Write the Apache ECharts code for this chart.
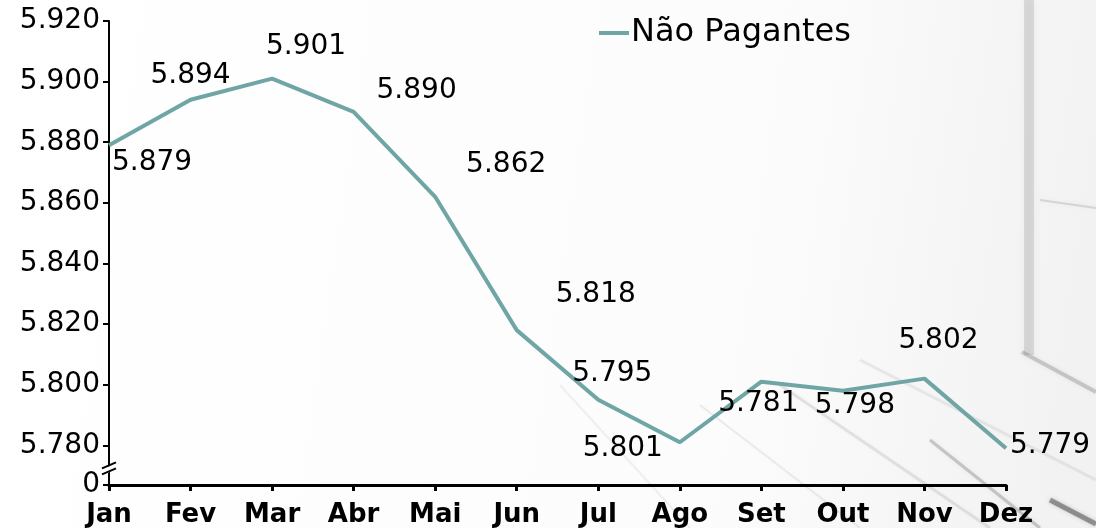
<!DOCTYPE html>
<html>
<head>
<meta charset="utf-8">
<script src="https://cdn.jsdelivr.net/npm/echarts@6/dist/echarts.min.js"></script>
<style>
  html, body { margin: 0; padding: 0; background: #fff; }
  #main { width: 1096px; height: 528px; }
</style>
</head>
<body>
<div id="main"></div>
<script>
// dados
var meses = ['Jan', 'Fev', 'Mar', 'Abr', 'Mai', 'Jun', 'Jul', 'Ago', 'Set', 'Out', 'Nov', 'Dez'];
var naoPagantes = [5.879, 5.894, 5.901, 5.890, 5.862, 5.818, 5.795, 5.781, 5.801, 5.798, 5.802, 5.779];
// rótulos como aparecem no gráfico original (Ago/Set trocados)
var rotulos = ['5.879', '5.894', '5.901', '5.890', '5.862', '5.818', '5.795', '5.801', '5.781', '5.798', '5.802', '5.779'];
var ticksY = [5.78, 5.80, 5.82, 5.84, 5.86, 5.88, 5.90, 5.92];
var eixoMin = 5.7669; // posição do "0" depois da quebra

// deslocamento de cada rótulo em relação ao ponto
var deslocRotulo = [[43, 17], [0, -24], [34, -32], [63, -21], [71, -32], [79, -35],
                    [14, -26], [-57, 6], [-3, 22], [12, 15], [14, -38], [44, -3]];

var fonte = 'DejaVu Sans';
var corLinha = '#6fa6a5';

var chart = echarts.init(document.getElementById('main'));

var dados = naoPagantes.map(function (v, i) {
  return {
    value: v,
    label: { formatter: rotulos[i], offset: deslocRotulo[i] }
  };
});

// fundo: foto cinza clara (aproximação)
function traco(x1, y1, x2, y2, cor, w) {
  return { type: 'line', shape: { x1: x1, y1: y1, x2: x2, y2: y2 },
    style: { stroke: cor, lineWidth: w, shadowBlur: 4, shadowColor: cor } };
}
var fundo = [
  { type: 'rect', shape: { x: 0, y: 0, width: 1096, height: 528 },
    style: { fill: new echarts.graphic.LinearGradient(0, 0, 1, 0.3, [
      { offset: 0, color: '#ffffff' }, { offset: 0.7, color: '#fcfcfc' }, { offset: 1, color: '#f2f2f2' }]) } },
  { type: 'rect', shape: { x: 1024, y: 0, width: 10, height: 355 },
    style: { fill: 'rgba(150,150,150,0.28)', shadowBlur: 6, shadowColor: 'rgba(150,150,150,0.4)' } },
  traco(1040, 200, 1096, 208, 'rgba(150,150,150,0.3)', 2),
  traco(1022, 352, 1096, 392, 'rgba(110,110,110,0.3)', 4),
  traco(860, 360, 1096, 480, 'rgba(170,170,170,0.2)', 3),
  traco(780, 385, 990, 528, 'rgba(150,150,150,0.22)', 3),
  traco(700, 405, 860, 528, 'rgba(170,170,170,0.2)', 2),
  traco(930, 440, 1040, 528, 'rgba(100,100,100,0.3)', 3),
  traco(1050, 500, 1096, 524, 'rgba(50,50,50,0.45)', 5),
  traco(560, 385, 690, 528, 'rgba(190,190,190,0.2)', 2)
].map(function (g) { g.silent = true; g.z = -10; return g; });

chart.setOption({
  animation: false,
  backgroundColor: '#ffffff',
  textStyle: { fontFamily: fonte },
  graphic: fundo,
  grid: { left: 109, right: 90, top: 21, bottom: 41, containLabel: false },
  legend: {
    data: ['Não Pagantes'],
    left: 594, top: 12,
    icon: 'rect', itemWidth: 30, itemHeight: 4,
    textStyle: { fontSize: 32, color: '#000', fontFamily: fonte, padding: [0, 0, 0, -3] }
  },
  xAxis: {
    type: 'category',
    data: meses,
    boundaryGap: false,
    axisLine: { lineStyle: { color: '#000', width: 3 } },
    axisTick: { alignWithLabel: true, length: 6, lineStyle: { color: '#000', width: 3 } },
    axisLabel: { color: '#000', fontSize: 26, fontWeight: 'bold', fontFamily: fonte, margin: 17 },
    splitLine: { show: false }
  },
  yAxis: {
    type: 'value',
    min: eixoMin,
    max: 5.92,
    axisLine: { show: true, lineStyle: { color: '#000', width: 2 } },
    axisTick: { show: true, length: 6, lineStyle: { color: '#000', width: 2 },
      customValues: [eixoMin].concat(ticksY) },
    axisLabel: {
      color: '#000', fontSize: 28, fontFamily: fonte, margin: 9,
      customValues: [eixoMin].concat(ticksY),
      formatter: function (v) {
        if (Math.abs(v - eixoMin) < 1e-6) return '0';
        return v.toFixed(3);
      }
    },
    splitLine: { show: false }
  },
  series: [{
    name: 'Não Pagantes',
    type: 'line',
    data: dados,
    symbol: 'circle',
    symbolSize: 0.1,
    itemStyle: { color: corLinha },
    lineStyle: { color: corLinha, width: 4 },
    label: {
      show: true,
      position: 'inside',
      align: 'center',
      verticalAlign: 'middle',
      color: '#000',
      fontSize: 28,
      fontFamily: fonte
    },
    z: 5
  }]
});

// marca de quebra do eixo Y
var yA = chart.convertToPixel({ yAxisIndex: 0 }, 5.7734);
var yB = chart.convertToPixel({ yAxisIndex: 0 }, 5.7714);
var x0 = chart.convertToPixel({ xAxisIndex: 0 }, 0);
chart.setOption({
  graphic: fundo.concat([
    { type: 'polygon', silent: true, z: 20,
      shape: { points: [[x0 - 3, yA + 3], [x0 + 3, yA - 1], [x0 + 3, yB - 1], [x0 - 3, yB + 3]] },
      style: { fill: '#ffffff' } },
    { type: 'line', silent: true, z: 21, shape: { x1: x0 - 7, y1: yA + 3, x2: x0 + 7, y2: yA - 3 },
      style: { stroke: '#000', lineWidth: 2 } },
    { type: 'line', silent: true, z: 21, shape: { x1: x0 - 7, y1: yB + 3, x2: x0 + 7, y2: yB - 3 },
      style: { stroke: '#000', lineWidth: 2 } }
  ])
});
</script>
</body>
</html>
